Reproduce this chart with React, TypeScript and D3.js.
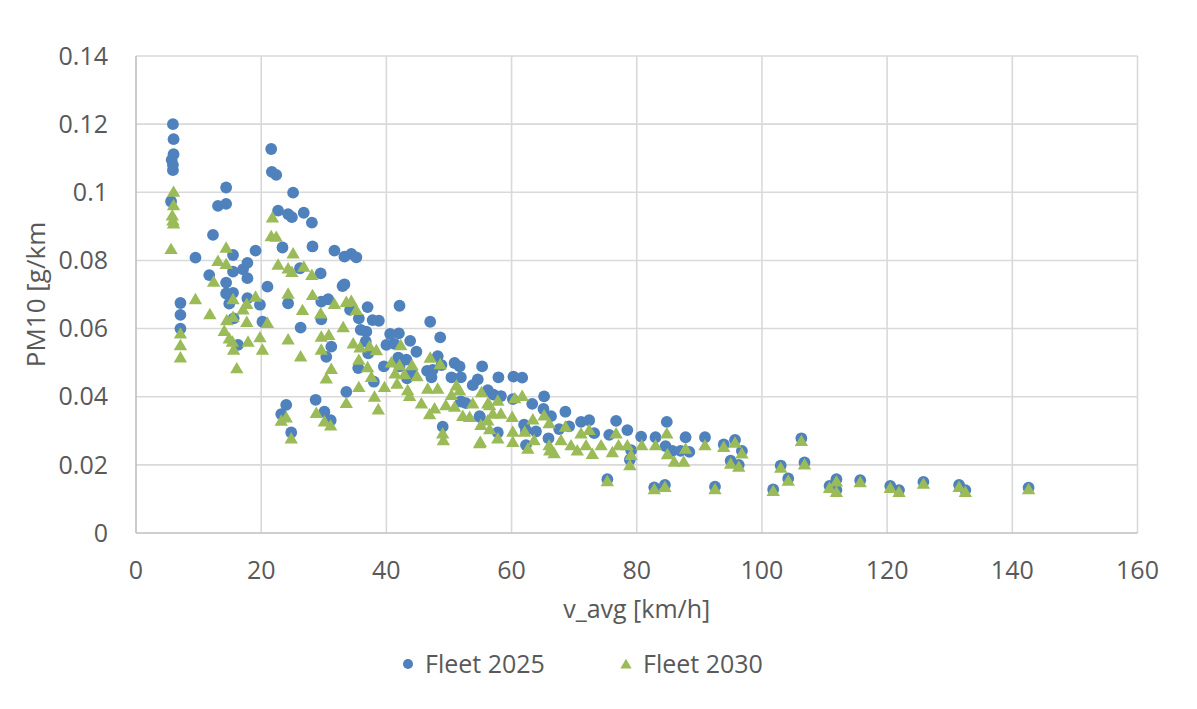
import * as d3 from "d3";

// PM10 emission factors vs. average speed
type Pt = [number, number];

const fleet2025: Pt[] = [
  [5.9, 0.12], [6.0, 0.1156], [6.0, 0.1112], [5.7, 0.1095], [5.9, 0.108], [5.9, 0.1065], [5.6, 0.0973],
  [7.1, 0.0675], [7.1, 0.064], [7.1, 0.06],
  [9.5, 0.0808], [11.7, 0.0757], [12.3, 0.0875],
  [13.1, 0.096], [14.4, 0.0966], [14.4, 0.1014],
  [14.4, 0.0735], [14.4, 0.0703], [15.5, 0.0705],
  [15.5, 0.0816], [15.5, 0.0767], [14.9, 0.0673], [15.6, 0.063], [16.3, 0.0552],
  [17.1, 0.0774], [17.8, 0.0793], [17.8, 0.0748], [19.1, 0.0829], [17.8, 0.0689], [19.8, 0.067], [21.0, 0.0723], [20.2, 0.062],
  [21.6, 0.1127], [21.7, 0.106], [22.4, 0.1051], [25.1, 0.0999], [22.7, 0.0946], [24.3, 0.0936], [24.9, 0.0927],
  [23.4, 0.0838], [24.3, 0.0674], [26.2, 0.0777], [26.3, 0.0603], [26.8, 0.094], [28.1, 0.0911], [28.2, 0.0841],
  [31.7, 0.0829], [33.3, 0.0811], [34.4, 0.0819], [35.2, 0.0809],
  [29.5, 0.0762], [29.6, 0.0679], [29.6, 0.0627], [31.2, 0.0547], [30.4, 0.0517], [30.7, 0.0686],
  [33.0, 0.0725], [33.3, 0.073], [34.2, 0.0655], [35.6, 0.063], [37.0, 0.0663], [37.8, 0.0625], [38.8, 0.0623],
  [35.9, 0.0596], [36.8, 0.0591], [36.7, 0.0562], [35.5, 0.0484], [38.0, 0.0444],
  [28.7, 0.0391], [33.6, 0.0414], [30.1, 0.0356], [31.1, 0.0331], [24.0, 0.0376], [23.2, 0.0349], [24.8, 0.0295],
  [42.1, 0.0667], [47.0, 0.062], [48.6, 0.0574], [40.6, 0.0584], [42.0, 0.0586], [43.8, 0.0564], [44.8, 0.0532],
  [40.0, 0.0552], [41.3, 0.0555], [37.1, 0.0527], [39.6, 0.0489], [41.9, 0.0515], [43.2, 0.0509], [42.1, 0.0489],
  [44.0, 0.0474], [43.3, 0.0454], [46.5, 0.0476], [47.4, 0.0479], [47.2, 0.0457], [48.2, 0.0519], [48.8, 0.0493],
  [50.9, 0.0499], [51.7, 0.0489], [50.4, 0.0457], [51.9, 0.0457], [55.3, 0.0489], [54.6, 0.0451], [53.8, 0.0434],
  [57.9, 0.0457], [60.3, 0.0459], [61.7, 0.0456], [56.2, 0.0419], [58.3, 0.0402], [60.2, 0.0393], [52.7, 0.0381],
  [54.9, 0.0341], [49.0, 0.0312], [57.8, 0.0295], [51.9, 0.0386], [57.1, 0.0406],
  [63.3, 0.0379], [65.2, 0.0401], [65.1, 0.0364], [68.6, 0.0356], [66.3, 0.0343], [71.1, 0.0326], [72.4, 0.0331],
  [76.7, 0.0329], [78.5, 0.0302], [80.7, 0.0283], [83.0, 0.0281], [84.8, 0.0326], [87.8, 0.0281], [90.9, 0.0281],
  [84.6, 0.0255], [85.7, 0.0241], [88.4, 0.0238], [87.0, 0.0241], [79.1, 0.0243], [78.9, 0.0215], [75.3, 0.0158],
  [82.8, 0.0134], [84.5, 0.0141], [92.5, 0.0136], [62.0, 0.0318], [62.3, 0.0301], [65.9, 0.0278], [54.9, 0.0343],
  [67.6, 0.0305], [69.2, 0.0313], [73.2, 0.0293], [75.6, 0.0288], [62.3, 0.0258], [63.9, 0.0298],
  [93.9, 0.026], [95.7, 0.0273], [96.8, 0.0241], [95.0, 0.0212], [96.3, 0.02], [106.3, 0.0278], [106.8, 0.0207],
  [103.0, 0.0198], [104.2, 0.016], [101.8, 0.0128], [110.8, 0.0138], [111.9, 0.0158], [111.9, 0.0126],
  [115.7, 0.0155], [120.5, 0.0138], [121.9, 0.0126], [125.8, 0.015], [131.5, 0.0141], [132.5, 0.0126], [142.6, 0.0133],
];

const fleet2030: Pt[] = [
  [6.0, 0.1002], [6.0, 0.0963], [5.8, 0.0933], [5.9, 0.0918], [6.0, 0.0909], [5.6, 0.0834],
  [7.1, 0.0586], [7.1, 0.0552], [7.1, 0.0516],
  [9.5, 0.0687], [11.8, 0.0643], [12.4, 0.0738], [13.1, 0.0799], [14.4, 0.079], [14.4, 0.0838],
  [15.5, 0.0687], [14.5, 0.0625], [15.5, 0.0635], [14.1, 0.0594], [14.9, 0.0572], [15.4, 0.0562], [15.6, 0.0539], [16.1, 0.0484],
  [17.1, 0.0657], [17.7, 0.0673], [19.1, 0.0694], [17.7, 0.062], [19.8, 0.0575], [20.2, 0.0539], [21.0, 0.0617], [17.9, 0.0562],
  [21.8, 0.0927], [21.6, 0.0872], [22.4, 0.087], [25.1, 0.0821], [22.7, 0.0788], [24.3, 0.0777], [24.9, 0.0767],
  [24.3, 0.0703], [24.3, 0.0569], [26.3, 0.0519], [26.8, 0.0782], [28.1, 0.0758], [26.6, 0.0655], [28.2, 0.0699],
  [29.5, 0.0645], [29.6, 0.0577], [30.8, 0.0582], [29.6, 0.0539], [31.2, 0.0482], [30.4, 0.0454],
  [31.7, 0.0673], [33.6, 0.0679], [34.4, 0.0682], [35.2, 0.0655], [33.1, 0.0605], [34.7, 0.0557], [35.8, 0.0545],
  [37.3, 0.0549], [38.4, 0.0537], [35.6, 0.0509], [37.0, 0.0487], [37.6, 0.0459], [35.6, 0.0429], [38.1, 0.0401],
  [38.7, 0.0363], [28.8, 0.0353], [33.6, 0.0382], [30.1, 0.0328], [31.1, 0.0316], [24.0, 0.034], [23.2, 0.033], [24.8, 0.0278],
  [42.3, 0.0552], [40.8, 0.0501], [42.1, 0.0493], [41.4, 0.0469], [42.9, 0.0467], [41.7, 0.0439], [43.4, 0.042],
  [44.1, 0.0493], [44.9, 0.0461], [39.7, 0.0429], [43.7, 0.0403], [47.0, 0.0515], [48.6, 0.0496], [46.6, 0.0424],
  [48.2, 0.0424], [45.6, 0.0381], [46.9, 0.0349], [47.7, 0.0366], [49.0, 0.0293], [49.1, 0.0273], [49.5, 0.0376],
  [50.4, 0.0406], [51.2, 0.0434], [51.7, 0.0419], [52.2, 0.0344], [50.9, 0.0371], [53.3, 0.0341], [53.8, 0.0381],
  [55.2, 0.0414], [56.2, 0.0381], [55.1, 0.0318], [56.5, 0.0305], [57.0, 0.0351], [57.8, 0.0389], [58.3, 0.0351],
  [55.0, 0.0268], [57.8, 0.0278], [60.1, 0.0341], [60.2, 0.0298], [60.2, 0.0268], [60.5, 0.0396],
  [56.5, 0.0376], [61.7, 0.0403], [56.2, 0.0331], [63.4, 0.0334], [62.1, 0.0298], [62.6, 0.0248], [63.6, 0.0273],
  [65.2, 0.0346], [66.0, 0.0323], [67.9, 0.0273], [66.8, 0.0235], [66.1, 0.0243], [68.6, 0.0313], [69.5, 0.0258],
  [70.5, 0.0243], [71.1, 0.0293], [72.4, 0.0303], [72.9, 0.0233], [71.9, 0.0258], [74.3, 0.0258], [76.1, 0.0238],
  [76.7, 0.0293], [77.1, 0.0258], [78.5, 0.0258], [79.1, 0.023], [78.9, 0.02], [80.8, 0.0258], [83.0, 0.0258],
  [84.8, 0.0293], [84.9, 0.0232], [86.0, 0.021], [87.8, 0.0248], [87.5, 0.021], [90.9, 0.0258], [75.3, 0.0153],
  [82.8, 0.0129], [84.5, 0.0136], [92.5, 0.0129], [66.0, 0.0258], [54.9, 0.0264],
  [93.9, 0.0253], [95.7, 0.0266], [96.8, 0.0234], [95.0, 0.0204], [96.3, 0.0195], [106.3, 0.0271], [106.8, 0.0202],
  [103.0, 0.0192], [104.2, 0.0154], [101.8, 0.0124], [110.8, 0.0133], [111.9, 0.0152], [111.9, 0.0121],
  [115.7, 0.015], [120.5, 0.0133], [121.9, 0.0121], [125.8, 0.0145], [131.5, 0.0136], [132.5, 0.0121], [142.6, 0.0129],
];

const xTicks = [0, 20, 40, 60, 80, 100, 120, 140, 160];
const yTicks = [0, 0.02, 0.04, 0.06, 0.08, 0.1, 0.12, 0.14];
const seriesNames = ["Fleet 2025", "Fleet 2030"];

const W = 1197;
const H = 709;
const plot = { left: 136, right: 1137.5, top: 56, bottom: 533 };
const BLUE = "#4f81bd";
const GREEN = "#9bbb59";
const TEXT = "#595959";
const FONT = "'Open Sans', 'Noto Sans', sans-serif";

const x = d3.scaleLinear().domain([0, 160]).range([plot.left, plot.right]);
const y = d3.scaleLinear().domain([0, 0.14]).range([plot.bottom, plot.top]);

const tri = (s: number) => `M0,${-s}L${s * 1.08},${s * 0.85}L${-s * 1.08},${s * 0.85}Z`;

export default function App() {
  return (
    <svg
      width={W}
      height={H}
      style={{ position: "absolute", left: 0, top: 0, background: "#fff" }}
      fontFamily={FONT}
    >
      {/* gridlines */}
      {yTicks.slice(1).map((t) => (
        <line key={"gy" + t} x1={plot.left} x2={plot.right} y1={y(t)} y2={y(t)} stroke="#d9d9d9" strokeWidth={1.6} />
      ))}
      {xTicks.slice(1).map((t) => (
        <line key={"gx" + t} x1={x(t)} x2={x(t)} y1={plot.top} y2={plot.bottom} stroke="#d9d9d9" strokeWidth={1.6} />
      ))}
      {/* axes */}
      <line x1={plot.left} x2={plot.left} y1={plot.top} y2={plot.bottom} stroke="#bfbfbf" strokeWidth={1.6} />
      <line x1={plot.left} x2={plot.right} y1={plot.bottom} y2={plot.bottom} stroke="#bfbfbf" strokeWidth={1.6} />

      {yTicks.map((t) => (
        <text key={"ty" + t} x={108} y={y(t)} dy="0.35em" textAnchor="end" fontSize={25} fill={TEXT}>
          {d3.format("~g")(t)}
        </text>
      ))}
      {xTicks.map((t) => (
        <text key={"tx" + t} x={x(t)} y={579} textAnchor="middle" fontSize={25} fill={TEXT}>
          {t}
        </text>
      ))}

      <text x={(plot.left + plot.right) / 2} y={618} textAnchor="middle" fontSize={25} fill={TEXT}>
        v_avg [km/h]
      </text>
      <text
        transform={`translate(45,${(plot.top + plot.bottom) / 2}) rotate(-90)`}
        textAnchor="middle"
        fontSize={26}
        fill={TEXT}
      >
        PM10 [g/km
      </text>

      {/* points */}
      <g>
        {fleet2025.map(([vx, vy], i) => (
          <circle key={"b" + i} cx={x(vx)} cy={y(vy)} r={5.9} fill={BLUE} />
        ))}
      </g>
      <g>
        {fleet2030.map(([vx, vy], i) => (
          <path key={"g" + i} transform={`translate(${x(vx)},${y(vy)})`} d={tri(6.2)} fill={GREEN} />
        ))}
      </g>

      {/* legend */}
      <circle cx={408} cy={664} r={5} fill={BLUE} />
      <text x={425} y={673} fontSize={25} fill={TEXT}>{seriesNames[0]}</text>
      <path transform="translate(626,664)" d={tri(5.2)} fill={GREEN} />
      <text x={643} y={673} fontSize={25} fill={TEXT}>{seriesNames[1]}</text>
    </svg>
  );
}
